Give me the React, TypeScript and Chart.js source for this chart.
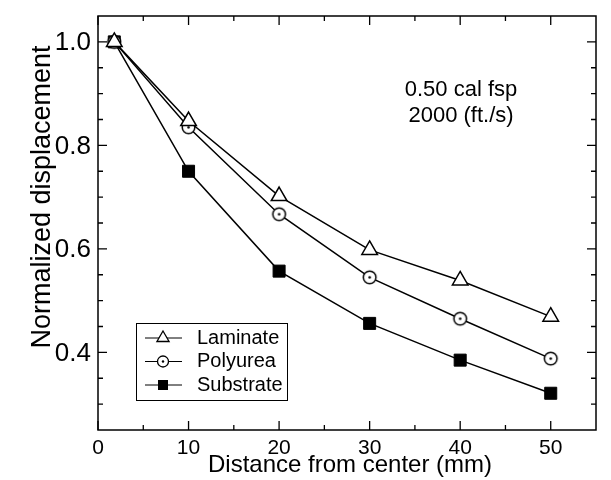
import React, { useEffect, useRef } from 'react';
import { Chart, registerables } from 'chart.js';

Chart.register(...registerables);

const X_VALUES = [1.8, 10, 20, 30, 40, 50];
const LAMINATE = [1.0, 0.847, 0.702, 0.598, 0.539, 0.469];
const POLYUREA = [1.0, 0.835, 0.667, 0.545, 0.465, 0.388];
const SUBSTRATE = [1.0, 0.75, 0.557, 0.456, 0.385, 0.321];
const SERIES_NAMES = ['Laminate', 'Polyurea', 'Substrate'];
const X_TICKS = [0, 10, 20, 30, 40, 50];
const X_MINOR = [5, 15, 25, 35, 45];
const Y_TICKS = [0.4, 0.6, 0.8, 1.0];
const Y_MINOR = [0.3, 0.35, 0.45, 0.5, 0.55, 0.65, 0.7, 0.75, 0.85, 0.9, 0.95];
const NOTE_LINES = ['0.50 cal fsp', '2000 (ft./s)'];
const X_TITLE = 'Distance from center (mm)';
const Y_TITLE = 'Normalized displacement';

const FONT = '"Liberation Sans", Arial, Helvetica, sans-serif';

function makeDotCircle(r: number, lw: number, dot: number): HTMLCanvasElement {
  const size = Math.ceil(2 * r + lw + 2);
  const c = document.createElement('canvas');
  c.width = size;
  c.height = size;
  const g = c.getContext('2d')!;
  g.beginPath();
  g.arc(size / 2, size / 2, r, 0, Math.PI * 2);
  g.fillStyle = '#fff';
  g.fill();
  g.lineWidth = lw;
  g.strokeStyle = '#000';
  g.stroke();
  g.beginPath();
  g.arc(size / 2, size / 2, dot, 0, Math.PI * 2);
  g.fillStyle = '#000';
  g.fill();
  return c;
}

function drawMarker(ctx: CanvasRenderingContext2D, kind: number, x: number, y: number) {
  ctx.save();
  ctx.lineWidth = 1.3;
  ctx.strokeStyle = '#000';
  if (kind === 0) {
    const r = 7;
    ctx.beginPath();
    ctx.moveTo(x, y - r);
    ctx.lineTo(x + r * Math.sin((2 * Math.PI) / 3), y - r * Math.cos((2 * Math.PI) / 3));
    ctx.lineTo(x + r * Math.sin((4 * Math.PI) / 3), y - r * Math.cos((4 * Math.PI) / 3));
    ctx.closePath();
    ctx.fillStyle = '#fff';
    ctx.fill();
    ctx.stroke();
  } else if (kind === 1) {
    ctx.beginPath();
    ctx.arc(x, y, 5.5, 0, Math.PI * 2);
    ctx.fillStyle = '#fff';
    ctx.fill();
    ctx.stroke();
    ctx.beginPath();
    ctx.arc(x, y, 1.2, 0, Math.PI * 2);
    ctx.fillStyle = '#000';
    ctx.fill();
  } else {
    ctx.fillStyle = '#000';
    ctx.fillRect(x - 5, y - 5, 10, 10);
  }
  ctx.restore();
}

const decorPlugin = {
  id: 'decor',
  afterDraw(chart: any) {
    const ctx: CanvasRenderingContext2D = chart.ctx;
    const { left, right, top, bottom } = chart.chartArea;
    const xs = chart.scales.x;
    const ys = chart.scales.y;
    ctx.save();
    // frame
    ctx.strokeStyle = '#000';
    ctx.lineWidth = 1.5;
    ctx.strokeRect(left, top, right - left, bottom - top);
    // ticks
    ctx.lineWidth = 1.3;
    const tickX = (v: number, len: number) => {
      const px = xs.getPixelForValue(v);
      ctx.beginPath();
      ctx.moveTo(px, bottom);
      ctx.lineTo(px, bottom - len);
      ctx.moveTo(px, top);
      ctx.lineTo(px, top + len);
      ctx.stroke();
    };
    const tickY = (v: number, len: number) => {
      const py = ys.getPixelForValue(v);
      ctx.beginPath();
      ctx.moveTo(left, py);
      ctx.lineTo(left + len, py);
      ctx.moveTo(right, py);
      ctx.lineTo(right - len, py);
      ctx.stroke();
    };
    X_TICKS.forEach((v) => tickX(v, 9));
    X_MINOR.forEach((v) => tickX(v, 5));
    Y_TICKS.forEach((v) => tickY(v, 9));
    Y_MINOR.forEach((v) => tickY(v, 5));

    ctx.fillStyle = '#000';
    // x tick labels
    ctx.font = `21px ${FONT}`;
    ctx.textAlign = 'center';
    ctx.textBaseline = 'middle';
    X_TICKS.forEach((v) => {
      ctx.fillText(String(v), xs.getPixelForValue(v), bottom + 18);
    });
    // y tick labels
    ctx.font = `26px ${FONT}`;
    ctx.textAlign = 'right';
    Y_TICKS.forEach((v) => {
      ctx.fillText(v.toFixed(1), left - 7, ys.getPixelForValue(v) + 1);
    });
    // x title
    ctx.font = `24px ${FONT}`;
    ctx.textAlign = 'center';
    ctx.fillText(X_TITLE, 350, 465);

    // annotation
    ctx.font = `22px ${FONT}`;
    ctx.textAlign = 'center';
    ctx.fillText(NOTE_LINES[0], 461, 90);
    ctx.fillText(NOTE_LINES[1], 461, 116);

    // y title
    ctx.save();
    ctx.translate(43, 197);
    ctx.rotate(-Math.PI / 2);
    ctx.font = `27px ${FONT}`;
    ctx.textAlign = 'center';
    ctx.textBaseline = 'middle';
    ctx.fillText(Y_TITLE, 0, 0);
    ctx.restore();

    // legend
    const lx = 136, ly = 323, lw = 151, lh = 77;
    ctx.fillStyle = '#fff';
    ctx.fillRect(lx, ly, lw, lh);
    ctx.lineWidth = 1;
    ctx.strokeStyle = '#000';
    ctx.strokeRect(lx + 0.5, ly + 0.5, lw, lh);
    const rows = [338, 361.5, 385];
    SERIES_NAMES.forEach((name, i) => {
      const y = rows[i];
      ctx.beginPath();
      ctx.lineWidth = 1;
      ctx.moveTo(145, y);
      ctx.lineTo(182, y);
      ctx.stroke();
      drawMarker(ctx, i, 163, y);
      ctx.fillStyle = '#000';
      ctx.font = `20px ${FONT}`;
      ctx.textAlign = 'left';
      ctx.textBaseline = 'middle';
      ctx.fillText(name, 197, y);
    });
    ctx.restore();
  },
};

export default function App() {
  const ref = useRef<HTMLCanvasElement | null>(null);
  useEffect(() => {
    if (!ref.current) return;
    const dotCircle = makeDotCircle(6.3, 1.5, 1.3);
    const mk = (vals: number[]) => X_VALUES.map((x, i) => ({ x, y: vals[i] }));
    const chart = new Chart(ref.current, {
      type: 'line',
      data: {
        datasets: [
          {
            label: SERIES_NAMES[0],
            data: mk(LAMINATE),
            borderColor: '#000',
            borderWidth: 1.5,
            pointStyle: 'triangle',
            pointRadius: 9,
            pointBackgroundColor: '#fff',
            pointBorderColor: '#000',
            pointBorderWidth: 1.5,
          },
          {
            label: SERIES_NAMES[1],
            data: mk(POLYUREA),
            borderColor: '#000',
            borderWidth: 1.5,
            pointStyle: dotCircle as any,
            pointRadius: 7,
          },
          {
            label: SERIES_NAMES[2],
            data: mk(SUBSTRATE),
            borderColor: '#000',
            borderWidth: 1.5,
            pointStyle: 'rect',
            pointRadius: 8.5,
            pointBackgroundColor: '#000',
            pointBorderColor: '#000',
            pointBorderWidth: 1,
          },
        ],
      },
      options: {
        animation: false,
        responsive: false,
        devicePixelRatio: 1,
        layout: { padding: { left: 0, top: 16, right: 15, bottom: 0 } },
        plugins: { legend: { display: false }, tooltip: { enabled: false } },
        scales: {
          x: {
            type: 'linear',
            min: 0,
            max: 55,
            afterBuildTicks: (s: any) => {
              s.ticks = X_TICKS.map((v) => ({ value: v }));
            },
            afterFit: (s: any) => {
              s.height = 50;
            },
            grid: { display: false },
            border: { display: false },
            ticks: { display: false },
            title: { display: false },
          },
          y: {
            type: 'linear',
            min: 0.25,
            max: 1.05,
            afterBuildTicks: (s: any) => {
              s.ticks = Y_TICKS.map((v) => ({ value: v }));
            },
            afterFit: (s: any) => {
              s.width = 98;
            },
            grid: { display: false },
            border: { display: false },
            ticks: { display: false },
            title: { display: false },
          },
        },
      },
      plugins: [decorPlugin],
    });
    return () => chart.destroy();
  }, []);
  return (
    <div style={{ position: 'fixed', left: 0, top: 0, width: 611, height: 480, background: '#fff' }}>
      <canvas ref={ref} width={611} height={480} />
    </div>
  );
}
